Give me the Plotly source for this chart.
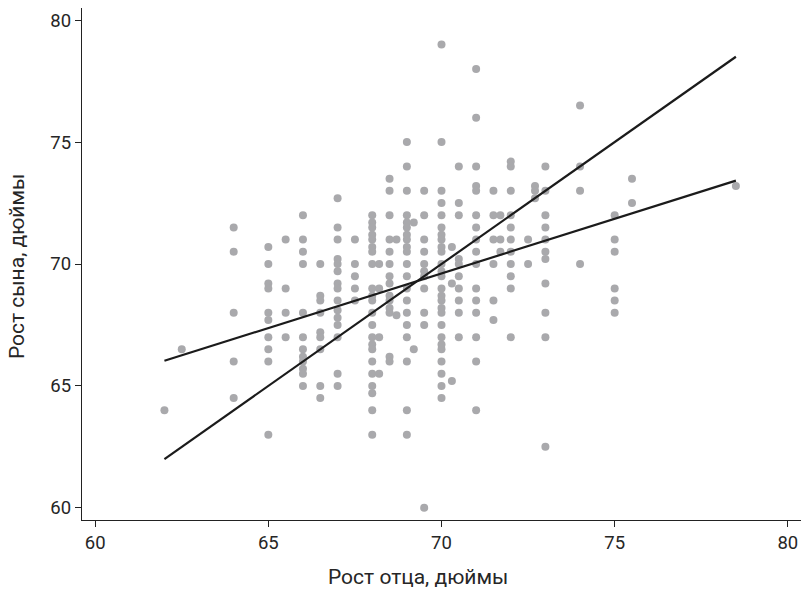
import plotly.graph_objects as go

# Father heights (inches) and the sons' heights observed at each father height
father_values = [62, 62.5, 64, 65, 65.5, 66, 66.5, 67, 67.5, 68, 68.2, 68.5, 68.7,
                 69, 69.2, 69.5, 70, 70.3, 70.5, 71, 71.5, 71.7, 72, 72.5, 72.7,
                 73, 74, 75, 75.5, 78.5]
son_groups = [
    [64],
    [66.5],
    [71.5, 70.5, 68, 66, 64.5],
    [70.7, 70, 69.2, 69, 68, 67.7, 67, 66.5, 66, 63],
    [71, 69, 68, 67],
    [72, 71, 70.5, 70, 68, 67, 66.5, 66.2, 66, 65.7, 65.5, 65],
    [70, 68.7, 68.5, 68, 67.2, 67, 66.5, 65, 64.5],
    [72.7, 71.5, 71, 70.2, 70, 69.7, 69.2, 69, 68.5, 68.1, 67.8, 67.5, 67, 65.5, 65],
    [71, 70, 69.5, 69, 68.5],
    [72, 71.7, 71.5, 71.2, 71, 70.7, 70.5, 70, 69, 68.7, 68.5, 68, 67.5, 67, 66.7,
     66.5, 66, 65.5, 65, 64.7, 64, 63],
    [70, 69, 67, 65.5],
    [73.5, 73, 72, 71, 70.5, 70, 69.5, 69.2, 68.7, 68.5, 68.2, 68, 66.2, 66],
    [71, 67.9],
    [75, 74, 73, 72, 71.7, 71.5, 71.2, 71, 70.7, 70.5, 70, 69.5, 69, 68.5, 68, 67.5,
     67, 66, 64, 63],
    [71.7, 66.5],
    [73, 72, 71, 70.5, 70, 69.7, 69.5, 69, 68, 67.5, 60],
    [79, 75, 73, 72.5, 72, 71.5, 71.2, 71, 70.7, 70.5, 70, 69.7, 69.5, 69, 68.7, 68.5,
     68.2, 68, 67.5, 67, 66.7, 66.5, 66, 65.5, 65, 64.5],
    [70.7, 69.2, 65.2],
    [74, 72.5, 72, 70.2, 70, 69.5, 69, 68.5, 68, 67],
    [78, 76, 74, 73.2, 73, 72, 71.5, 71, 70.5, 70, 69, 68.5, 68, 67, 66, 64],
    [73, 72, 71, 70, 68.5, 67.7],
    [72, 71, 70.5],
    [74.2, 74, 73, 72, 71.5, 71, 70.5, 70, 69.5, 69, 67],
    [71, 70],
    [73.2, 73, 72.7],
    [74, 73, 72, 71.5, 71, 70.5, 70.2, 69.2, 68, 67, 62.5],
    [76.5, 74, 73, 70],
    [72, 71, 70.5, 69, 68.5, 68],
    [73.5, 72.5],
    [73.2],
]

# Reference lines: identity line and regression line (end points)
identity_x = [62, 78.5]
identity_y = [62, 78.5]
regression_x = [62, 78.5]
regression_y = [66.03, 73.42]

x_ticks = [60, 65, 70, 75, 80]
y_ticks = [60, 65, 70, 75, 80]

x_title = "Рост отца, дюймы"
y_title = "Рост сына, дюймы"

fathers = []
sons = []
for f, group in zip(father_values, son_groups):
    for s in group:
        fathers.append(f)
        sons.append(s)

FONT = "Roboto"
TXT = "#262626"

fig = go.Figure()
fig.add_trace(go.Scatter(
    x=fathers, y=sons, mode="markers",
    marker=dict(color="#a9a9ac", size=8, line=dict(width=0)),
    showlegend=False, hoverinfo="x+y",
))
fig.add_trace(go.Scatter(
    x=identity_x, y=identity_y, mode="lines",
    line=dict(color="#1b1b1b", width=2.2), showlegend=False,
))
fig.add_trace(go.Scatter(
    x=regression_x, y=regression_y, mode="lines",
    line=dict(color="#1b1b1b", width=2.2), showlegend=False,
))

axis_common = dict(
    showgrid=False, zeroline=False, showline=True, linecolor="#222222", linewidth=1.3,
    ticks="outside", ticklen=6, tickwidth=1.2, tickcolor="#222222",
    tickfont=dict(family=FONT, size=18.5, color=TXT),
)

fig.update_layout(
    width=805, height=589,
    margin=dict(l=82, r=4, t=8, b=69),
    paper_bgcolor="white", plot_bgcolor="white",
    xaxis=dict(range=[59.62, 80.38], tickvals=x_ticks, **axis_common),
    yaxis=dict(range=[59.5, 80.5], tickvals=y_ticks, **axis_common),
    annotations=[
        dict(text=x_title, xref="paper", yref="paper", x=0.467, y=-0.111,
             xanchor="center", yanchor="middle", showarrow=False,
             font=dict(family=FONT, size=21, color=TXT)),
        dict(text=y_title, xref="paper", yref="paper", x=-0.0904, y=0.494,
             xanchor="center", yanchor="middle", showarrow=False, textangle=-90,
             font=dict(family=FONT, size=21, color=TXT)),
    ],
)

fig.write_html("out.html")
